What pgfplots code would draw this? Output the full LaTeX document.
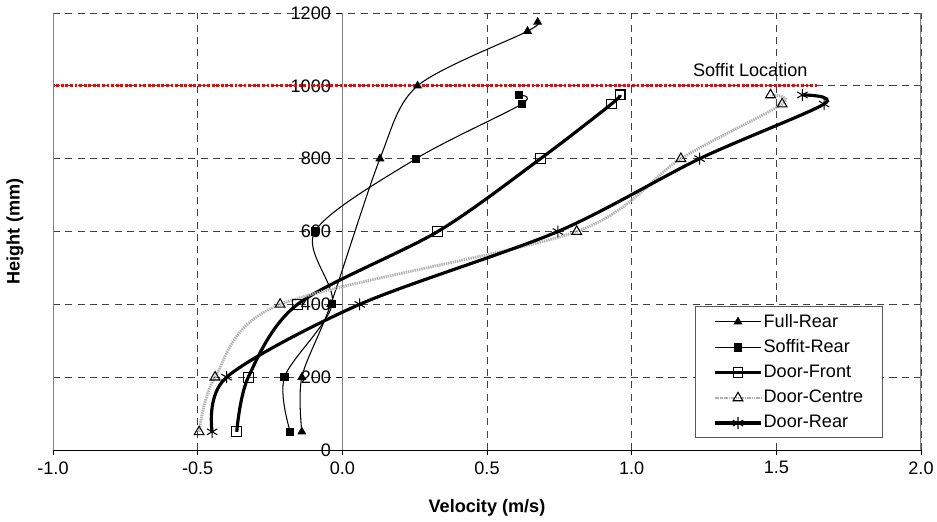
\documentclass[border=0pt]{standalone}
\usepackage{fontspec}
\setmainfont{Liberation Sans}
\usepackage{pgfplots}
\pgfplotsset{compat=1.18}
\begin{document}
\fontsize{10.3}{12}\selectfont
\begin{tikzpicture}
\useasboundingbox (-10.6mm,-14.2mm) rectangle (176.8mm,90mm);
\begin{axis}[
  scale only axis, width=173.6mm, height=87.4mm,
  xmin=-1, xmax=2, ymin=0, ymax=1200,
  axis x line=bottom, axis y line=center,
  axis line style={-},
  y axis line style={gray},
  hide obscured x ticks=false, hide obscured y ticks=false,
  xtick={-1,-0.5,...,2}, ytick={0,200,...,1200},
  tick align=outside, major tick length=1mm,
  tick style={black, line width=0.5pt},
  /pgf/number format/assume math mode=true,
  xticklabel style={/pgf/number format/.cd, fixed, fixed zerofill, precision=1},
  yticklabel style={/pgf/number format/.cd, fixed, precision=0, 1000 sep={}},
  grid=major,
  major grid style={black!75, line width=0.5pt, dash pattern=on 4pt off 3pt},
  legend style={at={(rel axis cs:0.956,0.027)}, anchor=south east,
    draw=gray!70!black, line width=0.6pt, fill=white, inner xsep=3.6mm, inner ysep=2pt,
    row sep=1.6pt, cells={anchor=west}, nodes={inner xsep=0.6pt}},
  legend image code/.code={\draw[mark repeat=2,mark phase=2,#1]
    plot coordinates {(0mm,0mm)(4.6mm,0mm)(9.2mm,0mm)};},
]
\addplot[red, line width=1.6pt, dash pattern=on 1.6pt off 1pt, forget plot]
  coordinates {(-1.02,1000)(1.64,1000)};

\addplot[black, line width=0.6pt, smooth, mark=triangle*, mark size=2.4pt,
  mark options={solid, fill=black}]
  coordinates {(-0.14,50)(-0.14,200)(-0.04,400)(0.13,800)(0.26,1000)(0.64,1150)(0.675,1175)};
\addlegendentry{Full-Rear}

\addplot[black, line width=0.6pt, smooth, mark=square*, mark size=2pt,
  mark options={solid, fill=black}]
  coordinates {(-0.18,50)(-0.20,200)(-0.035,400)(-0.095,600)(0.255,800)(0.62,950)(0.61,975)};
\addlegendentry{Soffit-Rear}

\addplot[black, line width=1.8pt, smooth, mark=square, mark size=2.8pt,
  mark options={solid, fill=white, line width=0.6pt}]
  coordinates {(-0.365,50)(-0.325,200)(-0.155,400)(0.33,600)(0.685,800)(0.93,950)(0.96,975)};
\addlegendentry{Door-Front}

\addplot[gray!60, line width=1.6pt, dash pattern=on 0.8pt off 0.5pt, smooth,
  mark=triangle, mark size=3.2pt,
  mark options={solid, draw=black, fill=white, line width=0.6pt}]
  coordinates {(-0.495,50)(-0.44,200)(-0.215,400)(0.81,600)(1.17,800)(1.52,950)(1.48,975)};
\addlegendentry{Door-Centre\hspace{5.6mm}}

\addplot[black, line width=1.8pt, smooth, mark=asterisk, mark size=3.4pt,
  mark options={solid, line width=0.6pt}]
  coordinates {(-0.45,50)(-0.40,200)(0.06,400)(0.745,600)(1.235,800)(1.665,950)(1.59,975)};
\addlegendentry{Door-Rear}

\node at (axis cs:1.41,1043) {Soffit Location};
\draw[gray, line width=0.6pt] (rel axis cs:0,0) -- (rel axis cs:0,1);
\draw[gray, line width=0.6pt] (rel axis cs:1,0) -- (rel axis cs:1,1);
\end{axis}
\node[rotate=90] at (-7.6mm,43.7mm) {\bfseries Height (mm)};
\node at (86.8mm,-11.6mm) {\bfseries Velocity (m/s)};
\end{tikzpicture}
\end{document}
